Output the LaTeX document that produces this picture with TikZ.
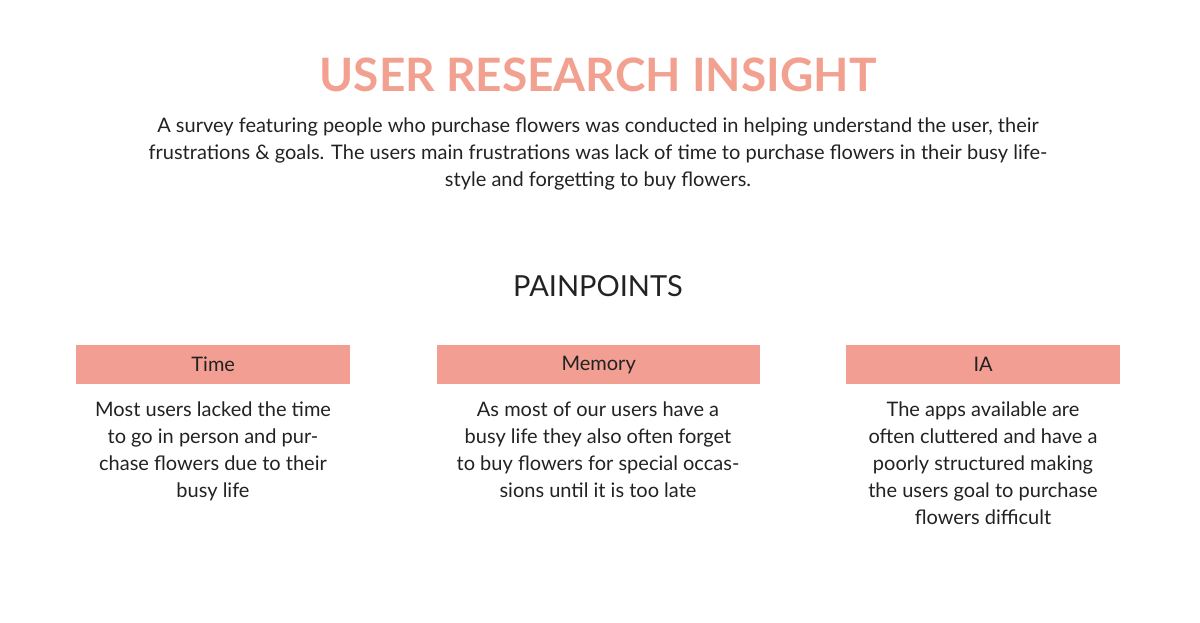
\documentclass[tikz,border=0pt]{standalone}
\usepackage{fontspec}
\setmainfont{Lato}
\definecolor{salmon}{HTML}{F29E92}
\definecolor{titlec}{HTML}{F2A090}
\definecolor{txt}{HTML}{222222}
\begin{document}
\begin{tikzpicture}[x=1pt,y=-1pt,
  body/.style={font=\fontsize{20}{27}\selectfont,text=txt,align=center,anchor=north},
  head/.style={fill=salmon,minimum width=274pt,minimum height=39pt,anchor=north west,inner sep=0pt,font=\fontsize{20}{24}\selectfont,text=txt}]
\useasboundingbox (0,0) rectangle (1200,623);
\node[font=\fontsize{46}{50}\selectfont\bfseries,text=titlec] (title) at (598,75) {USER RESEARCH INSIGHT};
\node[body,anchor=north] (intro) at (598,114) {A survey featuring people who purchase flowers was conducted in helping understand the user, their\\frustrations \& goals. The users main frustrations was lack of time to purchase flowers in their busy life-\\style and forgetting to buy flowers.};
\node[font=\fontsize{29}{32}\selectfont,text=txt] (pp) at (598,286) {PAINPOINTS};
\node[head] (h1) at (76,345) {Time};
\node[head,minimum width=323pt] (h2) at (437,345) {Memory};
\node[head] (h3) at (846,345) {IA};
\node[body] (t1) at (213,398) {Most users lacked the time\\to go in person and pur-\\chase flowers due to their\\busy life};
\node[body] (t2) at (598,398) {As most of our users have a\\busy life they also often forget\\to buy flowers for special occas-\\sions until it is too late};
\node[body] (t3) at (983,398) {The apps available are\\often cluttered and have a\\poorly structured making\\the users goal to purchase\\flowers difficult};
\end{tikzpicture}
\end{document}
